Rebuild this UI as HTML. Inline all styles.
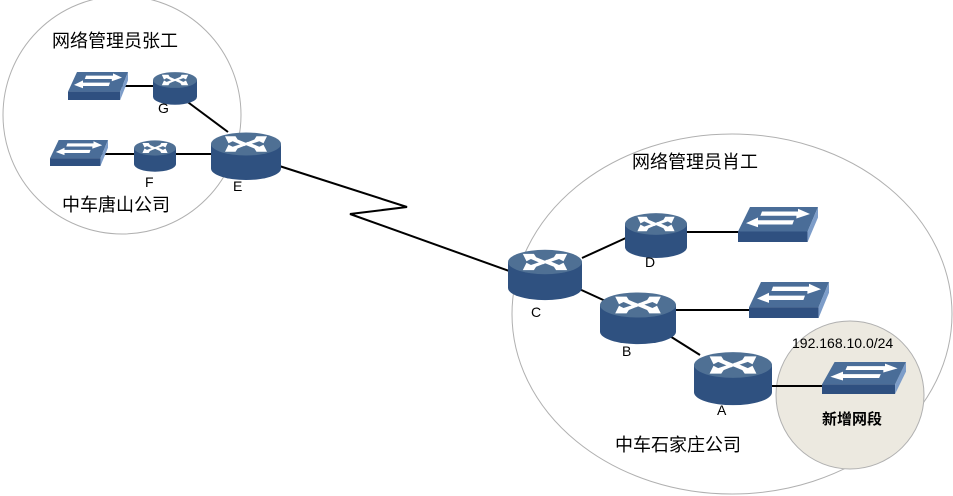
<!DOCTYPE html>
<html><head><meta charset="utf-8"><style>
body{margin:0;background:#fff}
svg{display:block}
text{font-family:"Liberation Sans","Noto Sans CJK SC",sans-serif;fill:#000}
</style></head><body>
<svg width="953" height="496" viewBox="0 0 953 496" xmlns="http://www.w3.org/2000/svg">
<defs>
<g id="r">
<path d="M-1,0 L-1,0.7 A1,0.33 0 0 0 1,0.7 L1,0 Z" fill="#2f5180"/>
<ellipse cx="0" cy="0" rx="1" ry="0.33" fill="#4f7094"/>
<polygon points="-0.6,-0.22 -0.3,-0.22 -0.24,-0.13 0.08,0 -0.05,0.06 -0.38,-0.08 -0.5,-0.02" fill="#fff"/>
<polygon points="0.6,0.22 0.3,0.22 0.24,0.13 -0.08,0 0.05,-0.06 0.38,0.08 0.5,0.02" fill="#fff"/>
<polygon points="0.6,-0.22 0.3,-0.22 0.24,-0.13 0.04,-0.05 0.14,0 0.38,-0.08 0.5,-0.02" fill="#fff"/>
<polygon points="-0.6,0.22 -0.3,0.22 -0.24,0.13 -0.04,0.05 -0.14,0 -0.38,0.08 -0.5,0.02" fill="#fff"/>
</g>
<g id="s">
<polygon points="0.15,0 1,0 0.87,0.7 0,0.7" fill="#4a6d98"/>
<rect x="0" y="0.7" width="0.87" height="0.3" fill="#2f5080"/>
<polygon points="0.87,0.7 1,0 1,0.3 0.87,1" fill="#7d9dc9"/>
<polygon points="0.3,0.13 0.75,0.13 0.75,0.05 0.9,0.2 0.73,0.33 0.73,0.25 0.28,0.25" fill="#fff"/>
<polygon points="0.7,0.38 0.25,0.38 0.25,0.3 0.1,0.46 0.25,0.58 0.25,0.5 0.68,0.5" fill="#fff"/>
</g>
</defs>
<circle cx="122" cy="115" r="119" fill="none" stroke="#b0b0b0"/>
<ellipse cx="732" cy="314" rx="220" ry="180" fill="none" stroke="#b0b0b0"/>
<circle cx="850" cy="395" r="74" fill="#ece9e0" stroke="#b0b0b0"/>
<g stroke="#000" stroke-width="2" fill="none">
<polyline points="270,163 407,207 350,214 512,272"/>
<line x1="120" y1="86" x2="160" y2="86"/>
<line x1="185" y1="100" x2="228" y2="132"/>
<line x1="100" y1="154" x2="140" y2="154"/>
<line x1="170" y1="154" x2="220" y2="154"/>
<line x1="582" y1="258" x2="628" y2="237"/>
<line x1="675" y1="232" x2="740" y2="232"/>
<line x1="577" y1="288" x2="612" y2="304"/>
<line x1="670" y1="310" x2="752" y2="310"/>
<line x1="665" y1="333" x2="700" y2="355"/>
<line x1="770" y1="386" x2="825" y2="386"/>
</g>
<use href="#r" transform="translate(545,262) scale(37,37)"/>
<use href="#r" transform="translate(656,224) scale(31,33)"/>
<use href="#r" transform="translate(638,305) scale(38,38)"/>
<use href="#r" transform="translate(733,365) scale(39,39)"/>
<use href="#r" transform="translate(246,144) scale(35,35)"/>
<use href="#r" transform="translate(175,80) scale(22,24)"/>
<use href="#r" transform="translate(155,148) scale(21,23)"/>
<use href="#s" transform="translate(738,207) scale(80,35)"/>
<use href="#s" transform="translate(749,282) scale(80,36)"/>
<use href="#s" transform="translate(822,362) scale(84,32)"/>
<use href="#s" transform="translate(68,72) scale(60,28)"/>
<use href="#s" transform="translate(50,140) scale(58,26)"/>
<g font-size="14">
<text x="158" y="113">G</text>
<text x="145" y="187">F</text>
<text x="233" y="191">E</text>
<text x="531" y="317">C</text>
<text x="645" y="267">D</text>
<text x="622" y="356">B</text>
<text x="717" y="415">A</text>
</g>
<g font-size="18">
<text x="52" y="47">网络管理员张工</text>
<text x="62" y="211">中车唐山公司</text>
<text x="632" y="168">网络管理员肖工</text>
<text x="615" y="451">中车石家庄公司</text>
</g>
<text x="792" y="348" font-size="14">192.168.10.0/24</text>
<text x="822" y="424" font-size="15" font-weight="bold">新增网段</text>
</svg>
</body></html>
